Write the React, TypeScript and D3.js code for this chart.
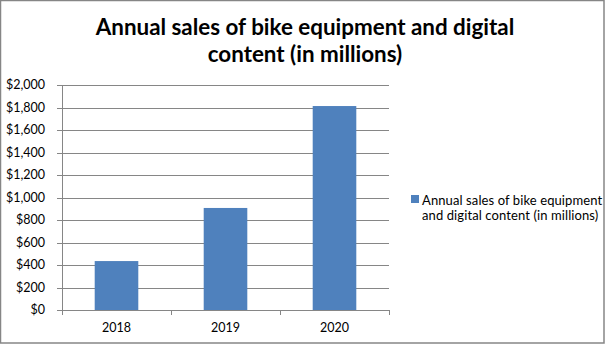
import React from "react";
import * as d3 from "d3";

const categories = ["2018", "2019", "2020"];
const values = [435, 907, 1813];
const yTicks = [0, 200, 400, 600, 800, 1000, 1200, 1400, 1600, 1800, 2000];
const titleLines = ["Annual sales of bike equipment and digital", "content (in millions)"];
const legendLines = ["Annual sales of bike equipment", "and digital content (in millions)"];

export default function App() {
  const W = 605, H = 344;
  const left = 62, right = 389, top = 85, bottom = 310;
  const x = d3.scaleBand().domain(categories).range([left, right]).paddingInner(0.6).paddingOuter(0.3);
  const xb = d3.scaleBand().domain(categories).range([left, right]);
  const y = d3.scaleLinear().domain([0, 2000]).range([bottom, top]);
  const fmt = (v: number) => "$" + d3.format(",")(v);
  const grid = "#868686";
  const blue = "#4f81bd";
  const font = "Lato, 'Open Sans', sans-serif";
  return (
    <svg width={W} height={H} style={{ position: "absolute", left: 0, top: 0 }}>
      <rect x={0.5} y={0.5} width={W - 1.5} height={H - 1.5} fill="#fff" stroke={grid} strokeWidth={1.5} />
      {titleLines.map((t, i) => (
        <text key={i} x={305} y={35 + i * 27} textAnchor="middle" fontFamily={font} fontWeight="bold" fontSize={22.4} fill="#000">{t}</text>
      ))}
      {yTicks.map((t) => (
        <g key={t}>
          <line x1={left - 5} x2={right} y1={Math.round(y(t)) + 0.5} y2={Math.round(y(t)) + 0.5} stroke={grid} strokeWidth={1} />
          <text x={45} y={y(t)} dy="0.35em" textAnchor="end" fontFamily={font} fontSize={12.5} fill="#000">{fmt(t)}</text>
        </g>
      ))}
      <line x1={left + 0.5} x2={left + 0.5} y1={top} y2={bottom + 5} stroke={grid} />
      {categories.map((c, i) => (
        <g key={c}>
          <line x1={Math.round(xb(c)! + xb.bandwidth()) + 0.5} x2={Math.round(xb(c)! + xb.bandwidth()) + 0.5} y1={bottom} y2={bottom + 5} stroke={grid} />
          <rect x={x(c)} y={y(values[i])} width={x.bandwidth()} height={bottom - y(values[i])} fill={blue} />
          <text x={x(c)! + x.bandwidth() / 2} y={332} textAnchor="middle" fontFamily={font} fontSize={12.5} fill="#000">{c}</text>
        </g>
      ))}
      <rect x={411} y={195} width={8} height={8} fill={blue} />
      {legendLines.map((t, i) => (
        <text key={i} x={422} y={205 + i * 15} fontFamily={font} fontSize={13} letterSpacing={0.1} fill="#000">{t}</text>
      ))}
    </svg>
  );
}
